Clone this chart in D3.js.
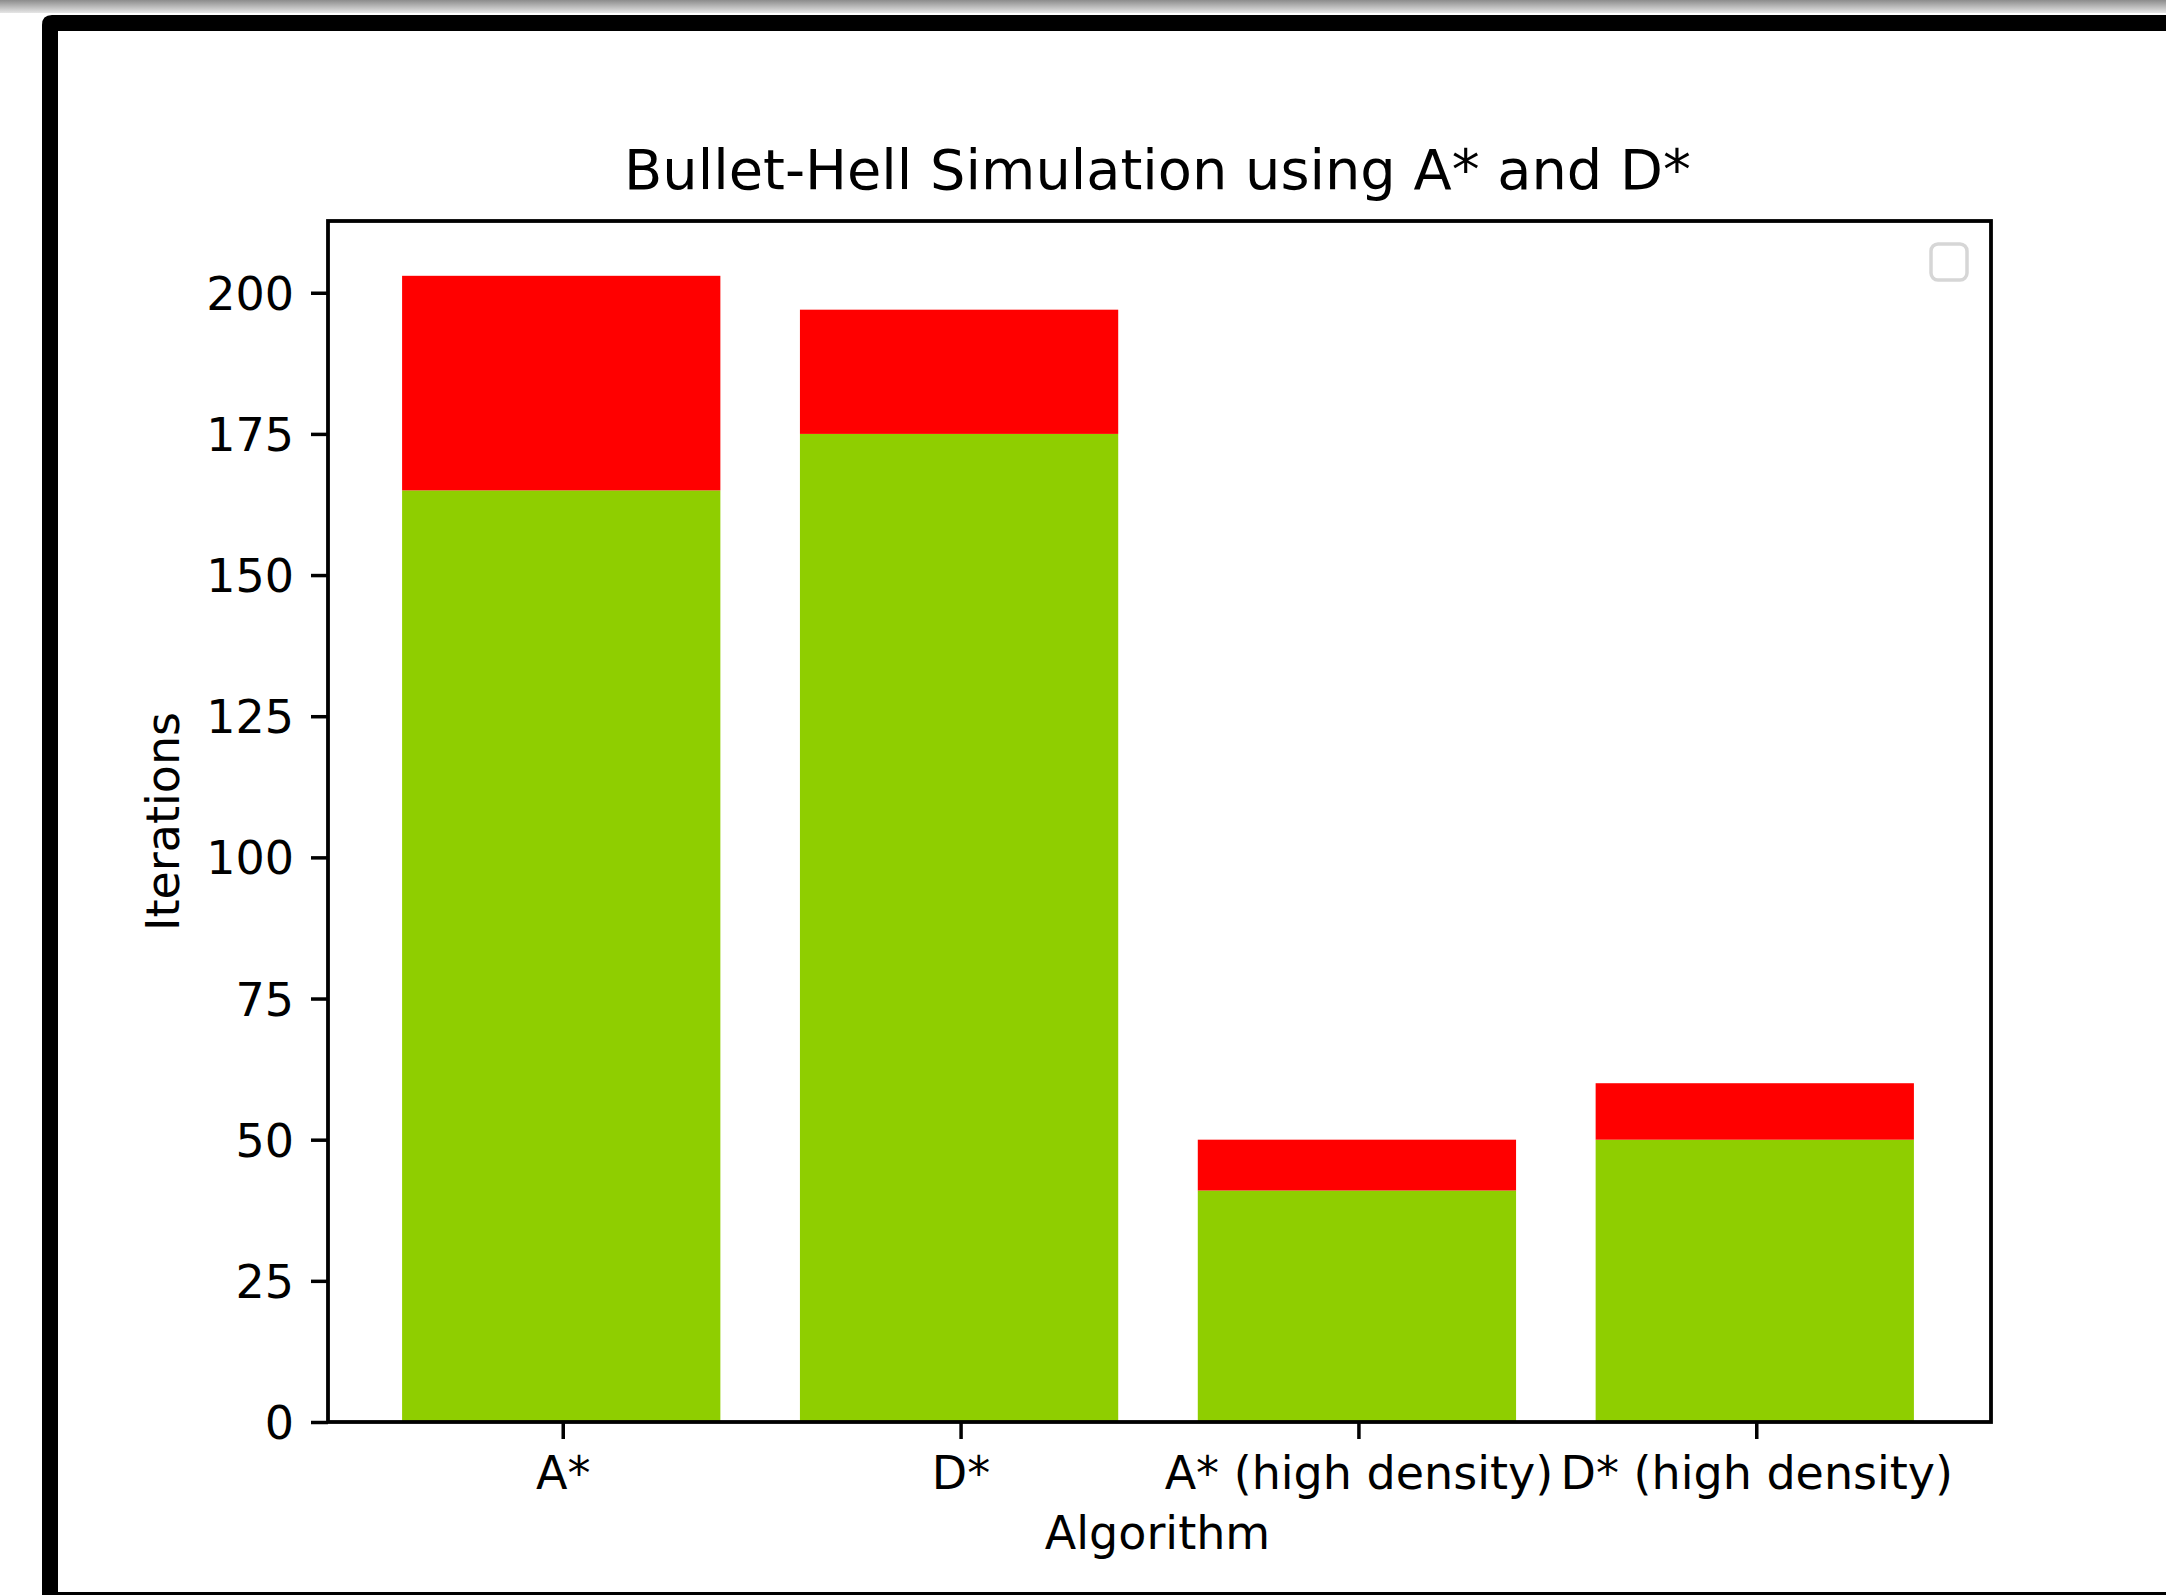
<!DOCTYPE html>
<html>
<head>
<meta charset="utf-8">
<script src="https://cdn.jsdelivr.net/npm/d3@7"></script>
<style>
  body { margin: 0; background: #fff; }
  text { font-family: "DejaVu Sans", sans-serif; fill: #000; }
</style>
</head>
<body>
<div id="chart"></div>
<script>
// Data
const categories = ["A*", "D*", "A* (high density)", "D* (high density)"];
const reached = [165, 175, 41, 50];   // green, bottom of the stack
const failed = [38, 22, 9, 10];       // red, stacked on top
const yTicks = [0, 25, 50, 75, 100, 125, 150, 175, 200];

const WIDTH = 2166;
const HEIGHT = 1595;
const plot = { left: 328, right: 1991, top: 221, bottom: 1422 };
const FONT = 46;

const svg = d3.select("#chart")
  .append("svg")
  .attr("width", WIDTH)
  .attr("height", HEIGHT);

// Window frame around the screenshot
const defs = svg.append("defs");
const grad = defs.append("linearGradient")
  .attr("id", "topShade").attr("x1", 0).attr("y1", 0).attr("x2", 0).attr("y2", 1);
grad.append("stop").attr("offset", "0%").attr("stop-color", "#8c8c8c");
grad.append("stop").attr("offset", "100%").attr("stop-color", "#e6e6e6");
svg.append("rect").attr("x", 0).attr("y", 0).attr("width", WIDTH).attr("height", 13)
  .attr("fill", "url(#topShade)");
svg.append("path")
  .attr("d", `M42,${HEIGHT} L42,25 Q42,15 52,15 L${WIDTH},15 L${WIDTH},31 L58,31 L58,${HEIGHT} Z`)
  .attr("fill", "#000");
svg.append("rect").attr("x", 58).attr("y", 1592).attr("width", WIDTH - 58).attr("height", 3)
  .attr("fill", "#000");

// Scales
const totals = reached.map((v, i) => v + failed[i]);
const yMax = d3.max(totals) * 1.05;
const x = d3.scaleLinear()
  .domain([-0.59, categories.length - 1 + 0.59])
  .range([plot.left, plot.right]);
const y = d3.scaleLinear()
  .domain([0, yMax])
  .range([plot.bottom, plot.top - 2.5]);
const barW = x(0.8) - x(0);

const stacked = categories.map((c, i) => ({
  i: i,
  parts: [
    { y0: 0, y1: reached[i], color: "#8fce00" },
    { y0: reached[i], y1: totals[i], color: "#ff0000" }
  ]
}));

// Bars
svg.append("g")
  .selectAll("g")
  .data(stacked)
  .enter()
  .append("g")
  .selectAll("rect")
  .data((d) => d.parts.map((p) => ({ ...p, i: d.i })))
  .enter()
  .append("rect")
  .attr("x", (d) => x(d.i) - barW / 2 - 1.5)
  .attr("width", barW)
  .attr("y", (d) => y(d.y1))
  .attr("height", (d) => y(d.y0) - y(d.y1))
  .attr("fill", (d) => d.color);

// Axes
const yAxis = svg.append("g")
  .attr("transform", `translate(${plot.left},0)`)
  .call(d3.axisLeft(y).tickValues(yTicks).tickSize(17).tickPadding(17));
const xAxis = svg.append("g")
  .attr("transform", `translate(0,${plot.bottom})`)
  .call(d3.axisBottom(x).tickValues(d3.range(categories.length))
    .tickFormat((i) => categories[i]).tickSize(17).tickPadding(16));

[xAxis, yAxis].forEach((g) => {
  g.select(".domain").remove();
  g.selectAll(".tick line").attr("stroke", "#000").attr("stroke-width", 3.5);
  g.selectAll(".tick text").attr("font-size", FONT).attr("font-family", "DejaVu Sans");
});
yAxis.selectAll(".tick text").attr("dy", "0.36em");
xAxis.selectAll(".tick text").attr("dy", "0.73em");

// Frame of the axes
svg.append("rect")
  .attr("x", plot.left).attr("y", plot.top)
  .attr("width", plot.right - plot.left).attr("height", plot.bottom - plot.top)
  .attr("fill", "none").attr("stroke", "#000").attr("stroke-width", 3.8);

// Empty legend box
svg.append("rect")
  .attr("x", 1931).attr("y", 244).attr("width", 36).attr("height", 36)
  .attr("rx", 7)
  .attr("fill", "#fff").attr("stroke", "#d6d6d6").attr("stroke-width", 3.5);

// Labels
svg.append("text")
  .attr("x", (plot.left + plot.right) / 2 - 2).attr("y", 189)
  .attr("text-anchor", "middle").attr("font-size", 55.8)
  .text("Bullet-Hell Simulation using A* and D*");
svg.append("text")
  .attr("x", (plot.left + plot.right) / 2 - 2).attr("y", 1549)
  .attr("text-anchor", "middle").attr("font-size", FONT)
  .text("Algorithm");
svg.append("text")
  .attr("transform", `translate(179,${(plot.top + plot.bottom) / 2}) rotate(-90)`)
  .attr("text-anchor", "middle").attr("font-size", FONT)
  .text("Iterations");
</script>
</body>
</html>
